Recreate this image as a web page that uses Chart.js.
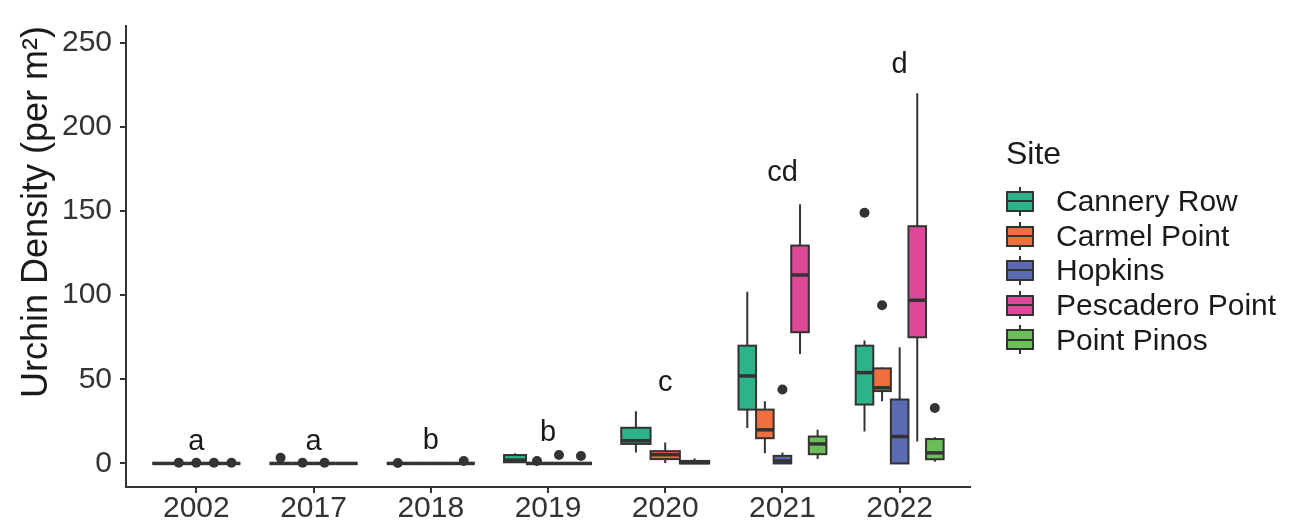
<!DOCTYPE html>
<html>
<head>
<meta charset="utf-8">
<script src="https://cdn.jsdelivr.net/npm/chart.js@4.4.1/dist/chart.umd.min.js"></script>
<style>
html, body { margin: 0; padding: 0; background: #fff; }
#wrap { position: relative; width: 1289px; height: 523px; }
#legend { position: absolute; left: 1006px; top: 134px; font-family: 'Liberation Sans', Arial, sans-serif; color: #1a1a1a; }
#legend .title { font-size: 32px; height: 38px; line-height: 38px; margin-bottom: 12px; }
#legend .row { display: flex; align-items: center; height: 34.6px; font-size: 30px; }
#legend .key { position: relative; width: 28px; height: 34.6px; margin-right: 22px; }
#legend .key .wh { position: absolute; left: 13px; width: 2px; top: 3px; bottom: 3px; background: #333; }
#legend .key .bx { position: absolute; left: 0; top: 7px; width: 28px; height: 21px; box-sizing: border-box; border: 2px solid #333; }
#legend .key .md { position: absolute; left: 0; width: 28px; top: 16.3px; height: 2px; background: #333; }
</style>
</head>
<body>
<div id="wrap">
  <canvas id="urchin-density-chart" width="1289" height="523"></canvas>
  <div id="legend"></div>
</div>
<script>
//DATA
const years = ['2002', '2017', '2018', '2019', '2020', '2021', '2022'];
const sites = ['Cannery Row', 'Carmel Point', 'Hopkins', 'Pescadero Point', 'Point Pinos'];

// [min, q1, median, q3, max] per year, null when the site was not sampled
const canneryRow     = [[0, 0, 0, 0, 0], [0, 0, 0, 0, 0], [0, 0, 0, 0, 0], [0.7, 0.7, 2, 5, 6], [6.5, 11.6, 13.5, 21.2, 31], [21, 32, 52, 70, 102], [19, 35, 54, 70, 73]];
const carmelPoint    = [[0, 0, 0, 0, 0], [0, 0, 0, 0, 0], [0, 0, 0, 0, 0], [0, 0, 0, 0, 0], [0.2, 2.6, 5.2, 7.3, 12.4], [6, 15, 20, 32, 37], [37, 43, 45, 56.5, 57]];
const hopkins        = [[0, 0, 0, 0, 0], [0, 0, 0, 0, 0], [0, 0, 0, 0, 0], [0, 0, 0, 0, 0], [0, 0, 0.5, 1.5, 3], [0, 0, 1.5, 4.5, 6.5], [0, 0, 16, 38, 69]];
const pescaderoPoint = [[0, 0, 0, 0, 0], null, null, null, null, [65, 78, 112, 129.5, 154], [13, 75, 97, 141, 220]];
const pointPinos     = [[0, 0, 0, 0, 0], [0, 0, 0, 0, 0], [0, 0, 0, 0, 0], [0, 0, 0, 0, 0], null, [2.7, 5.5, 11.6, 16, 20], [1, 2.5, 6.3, 14.5, 15.5]];

// outliers per year
const canneryRowOut     = [[], [3.4], [0.3], [], [], [], [149]];
const carmelPointOut    = [[0.4], [0.4], [], [1.5], [], [], [94]];
const hopkinsOut        = [[0.4], [0.4], [], [5], [], [44], []];
const pescaderoPointOut = [[0.4], [], [], [], [], [], []];
const pointPinosOut     = [[0.4], [], [1.5], [4.4], [], [], [33]];

// significance letters and the height they sit at
const groupLetters = ['a', 'a', 'b', 'b', 'c', 'cd', 'd'];
const letterHeights = [8, 8, 8.5, 13.5, 43, 168, 232];

const yTicks = [0, 50, 100, 150, 200, 250];

//STYLE
const siteColors = ['#2bb38a', '#ef6f3e', '#5a6bb4', '#df4899', '#6bbf58'];
const lineColor = '#333333';
const GROUP_WIDTH = 0.75;
const FONT = "'Liberation Sans', Arial, sans-serif";

const siteStats = [canneryRow, carmelPoint, hopkins, pescaderoPoint, pointPinos];
const siteOutliers = [canneryRowOut, carmelPointOut, hopkinsOut, pescaderoPointOut, pointPinosOut];

// sites present in a given year
function presentSites(i) {
    return siteStats.map((s, k) => (s[i] ? k : -1)).filter(k => k >= 0);
}

// x position (in category units) of a site's box inside its year group
function dodgeX(i, k) {
    const present = presentSites(i);
    const j = present.indexOf(k);
    const n = present.length;
    return i + (j - (n - 1) / 2) * (GROUP_WIDTH / n);
}

//BOXES
const boxplotPlugin = {
    id: 'boxplots',
    beforeDatasetsDraw(chart) {
        const ctx = chart.ctx;
        const x = chart.scales.x;
        const y = chart.scales.y;
        const unit = x.getPixelForValue(1) - x.getPixelForValue(0);
        ctx.save();
        ctx.strokeStyle = lineColor;
        years.forEach((yr, i) => {
            const present = presentSites(i);
            present.forEach(k => {
                const [mn, q1, md, q3, mx] = siteStats[k][i];
                const cx = x.getPixelForValue(dodgeX(i, k));
                const hw = unit * GROUP_WIDTH / present.length / 2;
                // whiskers
                ctx.lineWidth = 2;
                ctx.beginPath();
                ctx.moveTo(cx, y.getPixelForValue(mx));
                ctx.lineTo(cx, y.getPixelForValue(q3));
                ctx.moveTo(cx, y.getPixelForValue(q1));
                ctx.lineTo(cx, y.getPixelForValue(mn));
                ctx.stroke();
                // box
                const top = y.getPixelForValue(q3);
                const bottom = y.getPixelForValue(q1);
                ctx.fillStyle = siteColors[k];
                ctx.fillRect(cx - hw, top, hw * 2, bottom - top);
                ctx.lineWidth = 2;
                ctx.strokeRect(cx - hw, top, hw * 2, bottom - top);
                // median
                ctx.lineWidth = 3.5;
                ctx.beginPath();
                ctx.moveTo(cx - hw, y.getPixelForValue(md));
                ctx.lineTo(cx + hw, y.getPixelForValue(md));
                ctx.stroke();
            });
        });
        ctx.restore();
    },
    afterDatasetsDraw(chart) {
        const ctx = chart.ctx;
        const x = chart.scales.x;
        const y = chart.scales.y;
        ctx.save();
        ctx.font = '29px ' + FONT;
        ctx.fillStyle = '#1a1a1a';
        ctx.textAlign = 'center';
        ctx.textBaseline = 'alphabetic';
        groupLetters.forEach((t, i) => {
            ctx.fillText(t, x.getPixelForValue(i), y.getPixelForValue(letterHeights[i]));
        });
        ctx.restore();
    }
};

//OUTLIER DATASETS
const datasets = sites.map((name, k) => {
    const pts = [];
    siteOutliers[k].forEach((vals, i) => {
        vals.forEach(v => pts.push({ x: dodgeX(i, k), y: v }));
    });
    return {
        label: name,
        data: pts,
        pointRadius: 5,
        pointHoverRadius: 5,
        pointBackgroundColor: lineColor,
        pointBorderColor: lineColor,
        pointBorderWidth: 0
    };
});

Chart.defaults.font.family = FONT;
Chart.defaults.color = '#333';

new Chart(document.getElementById('urchin-density-chart'), {
    type: 'scatter',
    data: { datasets: datasets },
    options: {
        responsive: false,
        animation: false,
        layout: { padding: { top: 8, right: 319, bottom: 0, left: 0 } },
        plugins: {
            legend: { display: false },
            tooltip: { enabled: false }
        },
        scales: {
            x: {
                type: 'linear',
                min: -0.6,
                max: 6.6,
                afterBuildTicks: s => { s.ticks = years.map((yr, i) => ({ value: i })); },
                afterFit: s => { s.height = 36; },
                ticks: {
                    autoSkip: false,
                    maxRotation: 0,
                    padding: 1,
                    color: '#333',
                    font: { size: 30, lineHeight: 1 },
                    callback: v => years[v]
                },
                grid: { drawOnChartArea: false, drawTicks: true, tickLength: 6, color: lineColor, lineWidth: 2 },
                border: { display: true, color: lineColor, width: 2 }
            },
            y: {
                min: -14,
                max: 260,
                afterBuildTicks: s => { s.ticks = yTicks.map(v => ({ value: v })); },
                afterFit: s => { s.width = 126; },
                ticks: {
                    padding: 8,
                    color: '#333',
                    font: { size: 30 }
                },
                grid: { drawOnChartArea: false, drawTicks: true, tickLength: 6, color: lineColor, lineWidth: 2 },
                border: { display: true, color: lineColor, width: 2 },
                title: {
                    display: true,
                    text: 'Urchin Density (per m²)',
                    align: 'end',
                    color: '#1a1a1a',
                    font: { size: 36 },
                    padding: { top: 15, bottom: 0 }
                }
            }
        }
    },
    plugins: [boxplotPlugin]
});

//LEGEND
const legendEl = document.getElementById('legend');
let html = '<div class="title">Site</div>';
sites.forEach((name, k) => {
    html += '<div class="row"><div class="key"><div class="wh"></div><div class="bx" style="background:' + siteColors[k] + '"></div><div class="md"></div></div><span>' + name + '</span></div>';
});
legendEl.innerHTML = html;
</script>
</body>
</html>
